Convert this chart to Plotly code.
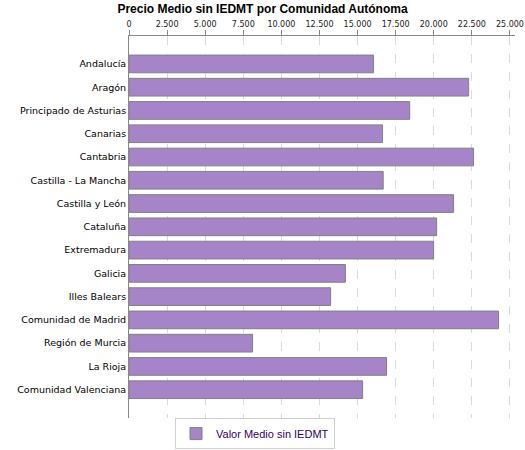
import plotly.graph_objects as go

# Data
comunidades = [
    "Andalucía", "Aragón", "Principado de Asturias", "Canarias", "Cantabria",
    "Castilla - La Mancha", "Castilla y León", "Cataluña", "Extremadura",
    "Galicia", "Illes Balears", "Comunidad de Madrid", "Región de Murcia",
    "La Rioja", "Comunidad Valenciana",
]
valor_medio = [
    16050, 22290, 18420, 16640, 22610,
    16680, 21300, 20190, 19990,
    14200, 13230, 24250, 8110,
    16900, 15330,
]
x_ticks = [0, 2500, 5000, 7500, 10000, 12500, 15000, 17500, 20000, 22500, 25000]

fig = go.Figure()
fig.add_trace(go.Bar(
    y=comunidades,
    x=valor_medio,
    orientation="h",
    name="Valor Medio sin IEDMT",
    marker=dict(color="#A584C8", line=dict(color="#808080", width=1)),
    width=0.76,
    showlegend=True,
))

fig.update_layout(
    width=525,
    height=450,
    margin=dict(l=129, r=10, t=36, b=27),
    paper_bgcolor="white",
    plot_bgcolor="white",
    separators=",.",
    font=dict(family="DejaVu Sans", size=10, color="black"),
    title=dict(
        text="<b>Precio Medio sin IEDMT por Comunidad Autónoma</b>",
        x=0.5, xref="container", xanchor="center",
        y=1 - 8.5 / 450, yanchor="middle",
        font=dict(family="Liberation Sans", size=12, color="black"),
    ),
    xaxis=dict(
        side="top",
        automargin=False,
        range=[0, 25330],
        tickvals=x_ticks,
        tickformat=",d",
        ticks="outside", ticklen=5, tickcolor="#888888",
        tickfont=dict(family="DejaVu Sans", size=8, color="#222222"),
        showline=True, linecolor="#888888", linewidth=1,
        showgrid=True, gridcolor="#DADADA", griddash="dash", gridwidth=1,
        zeroline=False,
    ),
    yaxis=dict(
        type="category",
        automargin=False,
        range=[15.22, -1.2],
        ticks="",
        tickfont=dict(family="DejaVu Sans", size=9.5, color="black"),
        showline=True, linecolor="#888888", linewidth=1,
        showgrid=False, zeroline=False,
    ),
    showlegend=True,
    legend=dict(
        orientation="h",
        xref="container", yref="container",
        x=255 / 525, xanchor="center",
        y=0.002, yanchor="bottom",
        bordercolor="#D0D0D0", borderwidth=1,
        font=dict(family="Liberation Sans", size=11, color="#330066"),
        itemwidth=30,
    ),
)

# page body has a default 8px margin; drop it so the chart sits at 0,0
fig.write_html(
    "out.html",
    config={"displayModeBar": False},
    post_script="document.body.style.margin='0';",
)
